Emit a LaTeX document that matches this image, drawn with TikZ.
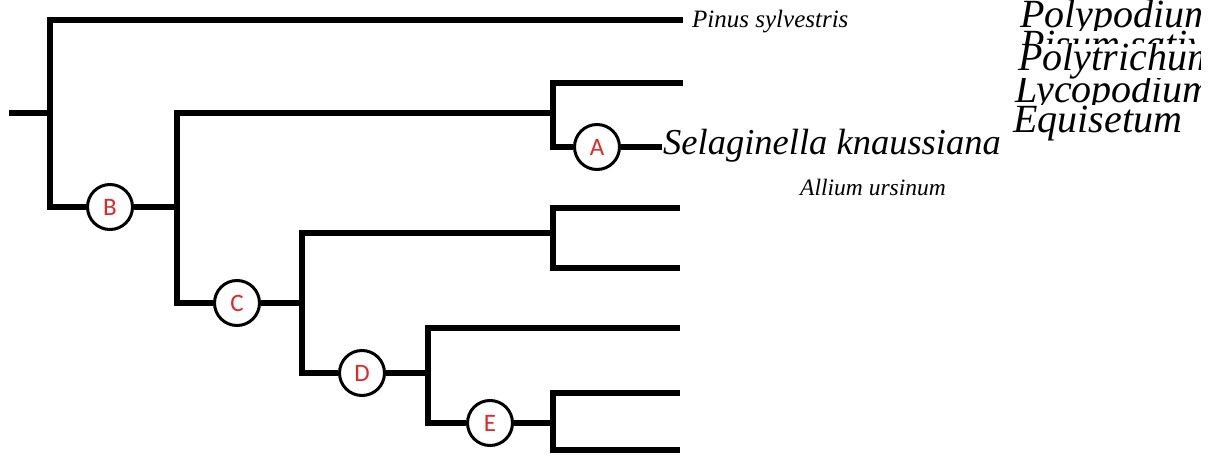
\documentclass[tikz,border=0pt]{standalone}
\usepackage{fontspec}
\setmainfont{Liberation Serif}
\newfontfamily\cladefont{Carlito}
\definecolor{cladered}{RGB}{230,38,38}
\tikzset{
  branch/.style={line width=6.5pt, line join=miter},
  clade/.style={circle, draw, line width=3pt, fill=white, minimum size=45pt,
    inner sep=0pt, text=cladered, font=\cladefont\fontsize{25}{25}\selectfont},
  taxon/.style={anchor=base west, inner sep=0pt, font=\itshape\fontsize{25}{25}\selectfont},
  bigtaxon/.style={anchor=base west, inner sep=0pt, font=\itshape\fontsize{40}{40}\selectfont},
}
\begin{document}
\begin{tikzpicture}[x=1pt, y=-1pt]
\useasboundingbox (0,0) rectangle (1222,457);

% junctions, tips and clade markers
\coordinate (root) at (9,113);
\coordinate (n1) at (50,113);
\coordinate (tPinus) at (683,20);
\node[clade] (B) at (110,207) {B};
\coordinate (n2) at (177,207);
\coordinate (n3) at (553,113);
\coordinate (t1) at (683,83);
\node[clade] (A) at (597,147) {A};
\coordinate (t2) at (662,147);
\node[clade] (C) at (237,303) {C};
\coordinate (n4) at (302,303);
\coordinate (n5) at (553,233);
\coordinate (t3) at (680,208);
\coordinate (t4) at (680,268);
\node[clade] (D) at (362,373) {D};
\coordinate (n6) at (428,373);
\coordinate (t5) at (680,328);
\node[clade] (E) at (490,423) {E};
\coordinate (n7) at (553,423);
\coordinate (t6) at (680,393);
\coordinate (t7) at (680,450);

% branches
\draw[branch] (root) -- (n1);
\draw[branch] (tPinus) -| (n1) |- (B);
\draw[branch] (B) -- (n2);
\draw[branch] (n3) -| (n2) |- (C);
\draw[branch] (t1) -| (n3) |- (A);
\draw[branch] (A) -- (t2);
\draw[branch] (C) -- (n4);
\draw[branch] (n5) -| (n4) |- (D);
\draw[branch] (t3) -| (n5) |- (t4);
\draw[branch] (D) -- (n6);
\draw[branch] (t5) -| (n6) |- (E);
\draw[branch] (E) -- (n7);
\draw[branch] (t6) -| (n7) |- (t7);

% taxon names
\node[taxon] (pinus) at (692,28) {Pinus sylvestris};
\node[taxon, font=\itshape\fontsize{36.5}{36.5}\selectfont] (selag) at (663,155) {Selaginella knaussiana};
\node[taxon, font=\itshape\fontsize{23.5}{23.5}\selectfont] (allium) at (800,195) {Allium ursinum};

% stacked names, each partly hidden by the one below
\begin{scope}
  \clip (1005,0) rectangle (1200,31);
  \node[bigtaxon] (polypod) at (1020,28) {Polypodium};
\end{scope}
\begin{scope}
  \clip (1005,31) rectangle (1200,44);
  \node[bigtaxon] (pisum) at (1020,58) {Pisum sativum};
\end{scope}
\begin{scope}
  \clip (1005,44) rectangle (1200,79);
  \node[bigtaxon] (polytri) at (1018,71) {Polytrichum};
\end{scope}
\begin{scope}
  \clip (1005,79) rectangle (1200,105);
  \node[bigtaxon] (lycopod) at (1015,103) {Lycopodium};
\end{scope}
\begin{scope}
  \clip (1005,105) rectangle (1200,150);
  \node[bigtaxon] (equis) at (1013,133) {Equisetum};
\end{scope}
\end{tikzpicture}
\end{document}
